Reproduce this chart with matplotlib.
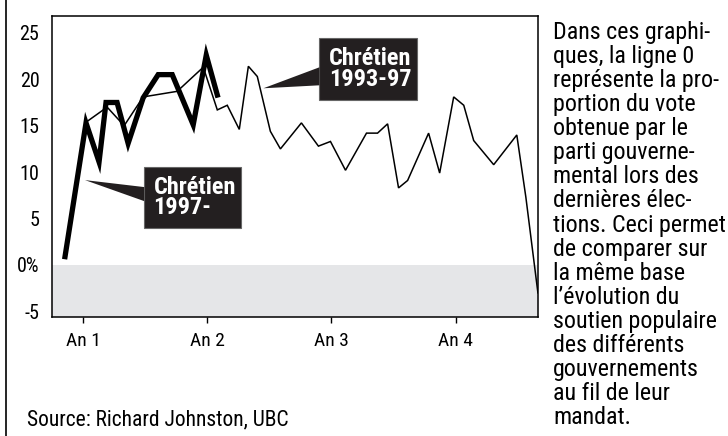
import matplotlib
matplotlib.use('Agg')
import matplotlib.pyplot as plt
import matplotlib.patches as mpatches
from matplotlib.lines import Line2D

plt.rcParams['font.family'] = ['Roboto Condensed', 'Archivo Narrow', 'PT Sans Narrow',
                               'Fira Sans Condensed', 'Sofia Sans Condensed',
                               'Saira SemiCondensed', 'DejaVu Sans']

# --- data (years into mandate, points above last election result) ---
chretien_9397_x = [1.016, 1.194, 1.331, 1.484, 1.758, 1.968, 2.081, 2.161, 2.258, 2.331,
                   2.403, 2.508, 2.589, 2.758, 2.895, 2.992, 3.113, 3.282, 3.371, 3.452,
                   3.540, 3.613, 3.782, 3.871, 3.984, 4.065, 4.145, 4.306, 4.492, 4.565, 4.662]
chretien_9397_y = [15.3, 17.0, 15.0, 18.1, 18.7, 21.3, 16.7, 17.2, 14.6, 21.4,
                   20.3, 14.4, 12.5, 15.3, 12.8, 13.3, 10.2, 14.2, 14.2, 15.2,
                   8.3, 9.1, 14.2, 9.9, 18.1, 17.2, 13.4, 10.8, 14.0, 7.3, -3.0]

chretien_97_x = [0.855, 1.024, 1.129, 1.185, 1.274, 1.363, 1.484, 1.605, 1.718, 1.887, 1.992, 2.081]
chretien_97_y = [0.9, 15.3, 11.1, 17.5, 17.5, 13.1, 18.0, 20.5, 20.5, 15.1, 22.6, 18.3]

year_ticks = [1, 2, 3, 4]
year_labels = ['An 1', 'An 2', 'An 3', 'An 4']
y_ticks = [-5, 0, 5, 10, 15, 20, 25]
y_labels = ['-5', '0%', '5', '10', '15', '20', '25']

note = ("Dans ces graphi-\nques, la ligne 0\nreprésente la pro-\nportion du vote\n"
        "obtenue par le\nparti gouverne-\nmental lors des\ndernières élec-\n"
        "tions. Ceci permet\nde comparer sur\nla même base\nl’évolution du\n"
        "soutien populaire\ndes différents\ngouvernements\nau fil de leur\nmandat.")

fig = plt.figure(figsize=(7.28, 4.36), dpi=100)
ax = fig.add_axes([0.0714, 0.273, 0.668, 0.690])

ymin, ymax = -5.6, 26.8
ax.set_xlim(0.75, 4.665)
ax.set_ylim(ymin, ymax)
ax.axhspan(ymin, 0, color='#e5e6e8', lw=0, zorder=0)

ax.plot(chretien_9397_x, chretien_9397_y, color='black', lw=1.1, zorder=2, solid_joinstyle='miter')
ax.plot(chretien_97_x, chretien_97_y, color='black', lw=3.8, zorder=3, solid_joinstyle='miter')

# callouts
def callout(box, tip, base, text):
    x0, y0, x1, y1 = box
    ax.add_patch(mpatches.Rectangle((x0, y1), x1 - x0, y0 - y1, facecolor='#231f20',
                                    edgecolor='#666666', lw=0.8, zorder=5))
    ax.add_patch(mpatches.Polygon([tip, (x0, base[0]), (x0, base[1])], closed=True,
                                  facecolor='#231f20', edgecolor='none', zorder=5))
    ax.text(x0 + 0.075, (y0 + y1) / 2, text, color='white', fontsize=17.5, fontweight='bold',
            ha='left', va='center', linespacing=0.88, zorder=6)

callout((1.492, 10.54, 2.274, 3.98), (1.016, 9.14), (8.39, 6.88), 'Chrétien\n1997-')
callout((2.903, 24.4, 3.685, 17.74), (2.452, 19.03), (21.29, 19.35), 'Chrétien\n1993-97')

ax.set_xticks(year_ticks)
ax.set_xticklabels(year_labels, fontsize=14)
ax.set_yticks(y_ticks)
ax.set_yticklabels(y_labels, fontsize=14.5)
ax.tick_params(axis='x', direction='out', length=4.5, width=1, pad=6)
ax.tick_params(axis='y', length=0, pad=9)
for s in ax.spines.values():
    s.set_linewidth(1.1)

fig.text(0.037, 0.037, 'Source: Richard Johnston, UBC', fontsize=15.5, ha='left', va='center')
fig.text(0.760, 0.952, note, fontsize=17.3, ha='left', va='top', linespacing=1.06)
fig.add_artist(Line2D([0.008, 0.008], [0, 1], color='black', lw=1.2, transform=fig.transFigure))

fig.savefig('out.png', dpi=100)
